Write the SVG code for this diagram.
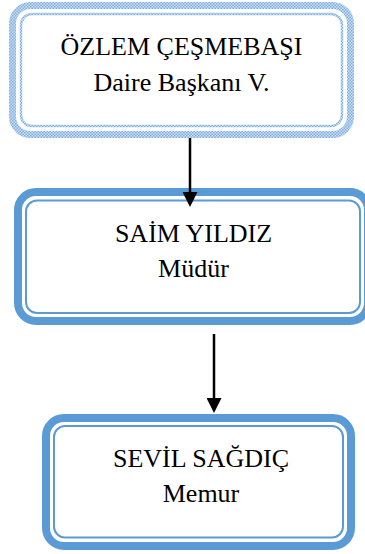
<svg xmlns="http://www.w3.org/2000/svg" width="365" height="554" viewBox="0 0 365 554">
  <defs>
    <pattern id="checker" width="3" height="3" patternUnits="userSpaceOnUse">
      <rect width="3" height="3" fill="#cfe1f4"/>
      <rect width="1.5" height="1.5" fill="#7eaee0"/>
      <rect x="1.5" y="1.5" width="1.5" height="1.5" fill="#7eaee0"/>
    </pattern>
    <marker id="arrow" viewBox="0 0 15 15" refX="7" refY="7.5" markerWidth="15" markerHeight="15" markerUnits="userSpaceOnUse" orient="auto">
      <path d="M0,0 L15,7.5 L0,15 z" fill="#000"/>
    </marker>
    <style>
      .band { fill: #fff; stroke: #5b9bd5; stroke-width: 8; }
      .band-pat { fill: #fff; stroke: url(#checker); stroke-width: 7; }
      .inner { fill: none; stroke: #5b9bd5; stroke-width: 2; }
      .inner-pat { fill: none; stroke: url(#checker); stroke-width: 2.5; }
      .label { font-family: "Liberation Serif", "Times New Roman", serif; font-size: 26px; fill: #000; text-anchor: middle; }
      .conn { stroke: #000; stroke-width: 2.5; fill: none; marker-end: url(#arrow); }
    </style>
  </defs>

  <g id="node-ozlem">
    <rect class="band-pat" x="12.5" y="5.5" width="338" height="129" rx="18" ry="18"/>
    <rect class="inner-pat" x="21" y="14" width="321" height="112" rx="11" ry="11"/>
    <text class="label" x="181.5" y="55">ÖZLEM ÇEŞMEBAŞI</text>
    <text class="label" x="181.5" y="91">Daire Başkanı V.</text>
  </g>

  <g id="node-saim">
    <rect class="band" x="18" y="192" width="350" height="129" rx="18" ry="18"/>
    <rect class="inner" x="26" y="200.5" width="334" height="112.5" rx="11" ry="11"/>
    <text class="label" x="193.5" y="242">SAİM YILDIZ</text>
    <text class="label" x="193.5" y="277">Müdür</text>
  </g>

  <g id="node-sevil">
    <rect class="band" x="46" y="418" width="305" height="128" rx="18" ry="18"/>
    <rect class="inner" x="54" y="426" width="289" height="111.5" rx="11" ry="11"/>
    <text class="label" x="201" y="467">SEVİL SAĞDIÇ</text>
    <text class="label" x="201" y="501.5">Memur</text>
  </g>

  <g id="connectors">
    <line class="conn" x1="190" y1="138" x2="190" y2="199"/>
    <line class="conn" x1="214" y1="334" x2="214" y2="405"/>
  </g>
</svg>
